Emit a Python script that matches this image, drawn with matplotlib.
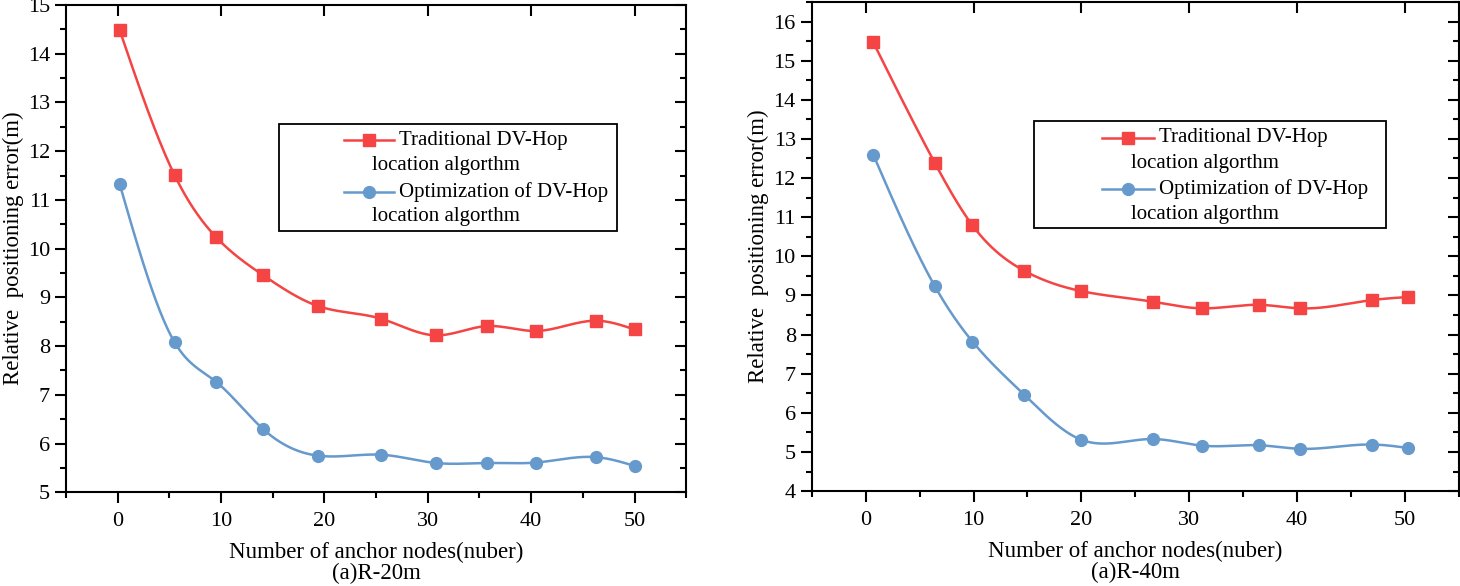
import numpy as np
import matplotlib
matplotlib.use('Agg')
import matplotlib.pyplot as plt
from matplotlib.lines import Line2D
from matplotlib.patches import Rectangle
from matplotlib.ticker import MultipleLocator

plt.rcParams['font.family'] = ['Liberation Serif', 'DejaVu Serif']

# Panel (a) R-20m
x_20 = [0.2, 5.5, 9.5, 14.1, 19.4, 25.5, 30.8, 35.7, 40.5, 46.3, 50.0]
trad_20 = [14.48, 11.51, 10.24, 9.45, 8.82, 8.56, 8.22, 8.41, 8.31, 8.52, 8.34]
opt_20 = [11.32, 8.08, 7.27, 6.29, 5.75, 5.77, 5.60, 5.60, 5.61, 5.72, 5.54]

# Panel (a) R-40m
x_40 = [0.7, 6.4, 9.9, 14.7, 20.0, 26.6, 31.2, 36.5, 40.3, 46.9, 50.3]
trad_40 = [15.47, 12.39, 10.79, 9.63, 9.11, 8.84, 8.67, 8.76, 8.67, 8.88, 8.96]
opt_40 = [12.60, 9.24, 7.82, 6.46, 5.31, 5.33, 5.16, 5.17, 5.08, 5.19, 5.10]

legend_labels = ['Traditional DV-Hop', 'Optimization of DV-Hop']
legend_second = 'location algorthm'

RED = '#F44444'
BLUE = '#6699CC'


def spline(x, y, n=400):
    # natural cubic spline, only used to draw the smooth connecting line
    x = np.asarray(x, float)
    y = np.asarray(y, float)
    h = np.diff(x)
    m = len(x)
    A = np.zeros((m, m))
    b = np.zeros(m)
    A[0, 0] = A[-1, -1] = 1
    for i in range(1, m - 1):
        A[i, i - 1] = h[i - 1]
        A[i, i] = 2 * (h[i - 1] + h[i])
        A[i, i + 1] = h[i]
        b[i] = 3 * ((y[i + 1] - y[i]) / h[i] - (y[i] - y[i - 1]) / h[i - 1])
    c = np.linalg.solve(A, b)
    xs = np.linspace(x[0], x[-1], n)
    k = np.clip(np.searchsorted(x, xs) - 1, 0, m - 2)
    dx = xs - x[k]
    bb = (y[k + 1] - y[k]) / h[k] - h[k] * (2 * c[k] + c[k + 1]) / 3
    dd = (c[k + 1] - c[k]) / (3 * h[k])
    return xs, y[k] + bb * dx + c[k] * dx ** 2 + dd * dx ** 3


def panel(ax, x, trad, opt, ylim, caption):
    for yv, col, mk in [(trad, RED, 's'), (opt, BLUE, 'o')]:
        xs, ys = spline(x, yv)
        ax.plot(xs, ys, color=col, lw=1.8, zorder=2)
        ax.plot(x, yv, ls='none', marker=mk, ms=8.5, color=col, zorder=3)
    ax.set_xlim(-5, 55)
    ax.set_ylim(*ylim)
    ax.xaxis.set_major_locator(MultipleLocator(10))
    ax.xaxis.set_minor_locator(MultipleLocator(5))
    ax.yaxis.set_major_locator(MultipleLocator(1))
    ax.yaxis.set_minor_locator(MultipleLocator(0.5))
    ax.tick_params(which='major', length=8, width=1.5, labelsize=16, direction='out')
    ax.tick_params(which='minor', length=4.5, width=1.5, direction='out')
    ax.tick_params(axis='x', which='major', pad=6)
    for s in ax.spines.values():
        s.set_linewidth(1.5)
    # inward ticks on top (major) and right (major + minor)
    sec_x = ax.secondary_xaxis('top')
    sec_x.xaxis.set_major_locator(MultipleLocator(10))
    sec_x.tick_params(direction='in', length=8, width=1.5, labeltop=False)
    sec_x.spines['top'].set_visible(False)
    sec_y = ax.secondary_yaxis('right')
    sec_y.yaxis.set_major_locator(MultipleLocator(1))
    sec_y.yaxis.set_minor_locator(MultipleLocator(0.5))
    sec_y.tick_params(which='major', direction='in', length=8, width=1.5, labelright=False)
    sec_y.tick_params(which='minor', direction='in', length=4.5, width=1.5)
    sec_y.spines['right'].set_visible(False)
    ax.set_ylabel('Relative  positioning error(m)', fontsize=16.5, labelpad=3)
    ax.set_xlabel('Number of anchor nodes(nuber)\n' + caption, fontsize=16.5,
                  linespacing=1.0, labelpad=8)

    # legend drawn by hand (second line of each label starts under the marker)
    ax.add_patch(Rectangle((0.343, 0.537), 0.545, 0.219, transform=ax.transAxes,
                           fill=True, facecolor='white', edgecolor='black',
                           lw=1.3, zorder=4))
    rows = [0.722, 0.617]
    for r, col, mk, lab in zip(rows, [RED, BLUE], ['s', 'o'], legend_labels):
        ax.add_line(Line2D([0.449, 0.529], [r, r], transform=ax.transAxes,
                           color=col, lw=1.8, zorder=5))
        ax.add_line(Line2D([0.489], [r], transform=ax.transAxes, marker=mk,
                           ms=8.5, color=col, zorder=6))
        ax.text(0.537, r, lab, transform=ax.transAxes, fontsize=15,
                va='center', ha='left', zorder=6)
        ax.text(0.494, r - 0.052, legend_second, transform=ax.transAxes,
                fontsize=15, va='center', ha='left', zorder=6)


fig = plt.figure(figsize=(14.6, 5.86), dpi=100)
ax1 = fig.add_axes([0.0452, 0.160, 0.4248, 0.8315])
ax2 = fig.add_axes([0.556, 0.162, 0.4433, 0.8346])
panel(ax1, x_20, trad_20, opt_20, (5, 15), '(a)R-20m')
panel(ax2, x_40, trad_40, opt_40, (4, 16.5), '(a)R-40m')

fig.savefig('out.png', dpi=100)
